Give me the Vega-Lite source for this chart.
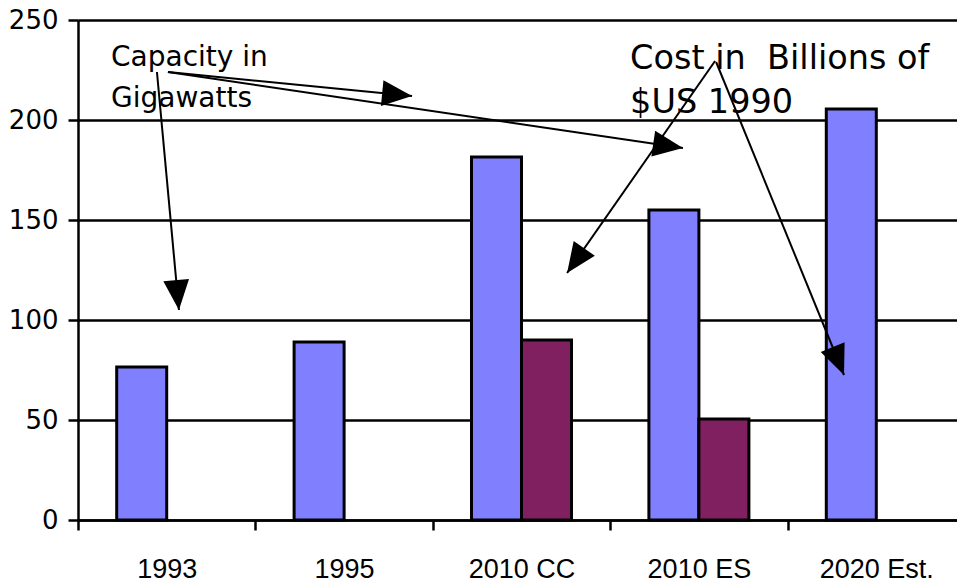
{
  "$schema": "https://vega.github.io/schema/vega-lite/v6.json",
  "width": 879,
  "height": 500,
  "autosize": {"type": "none"},
  "padding": {"left": 78, "top": 20, "right": 0, "bottom": 64},
  "background": "white",
  "config": {"view": {"stroke": null}},
  "datasets": {
    "bars": [
      {"category": "1993", "series": "Capacity", "value": 76.5},
      {"category": "1995", "series": "Capacity", "value": 89},
      {"category": "2010 CC", "series": "Capacity", "value": 181.5},
      {"category": "2010 CC", "series": "Cost", "value": 90},
      {"category": "2010 ES", "series": "Capacity", "value": 155},
      {"category": "2010 ES", "series": "Cost", "value": 50.5},
      {"category": "2020 Est.", "series": "Capacity", "value": 205.5}
    ],
    "arrows": [
      {"x": 0.445, "y": 224, "x2": 0.569, "y2": 105},
      {"x": 0.507, "y": 224, "x2": 1.883, "y2": 212},
      {"x": 0.507, "y": 224, "x2": 3.41, "y2": 186},
      {"x": 3.591, "y": 229.5, "x2": 2.757, "y2": 123.5},
      {"x": 3.597, "y": 229, "x2": 4.318, "y2": 72.5}
    ],
    "capText": [
      {"x": 0.186, "y": 227, "label": "Capacity in"},
      {"x": 0.186, "y": 206.5, "label": "Gigawatts"}
    ],
    "costText": [
      {"x": 3.112, "y": 225.5, "label": "Cost in \u00a0Billions of"},
      {"x": 3.112, "y": 203.5, "label": "$US 1990"}
    ]
  },
  "layer": [
    {
      "data": {"name": "bars"},
      "mark": {"type": "bar", "stroke": "black", "strokeWidth": 3},
      "encoding": {
        "x": {
          "field": "category", "type": "nominal", "sort": null,
          "scale": {"domain": ["1993", "1995", "2010 CC", "2010 ES", "2020 Est."], "range": [0, 887], "paddingInner": 0, "paddingOuter": 0},
          "axis": {"title": null, "labelAngle": 0, "tickBand": "extent", "ticks": true, "tickSize": 10, "tickColor": "black", "tickWidth": 2.5, "domainColor": "black", "domainWidth": 2.5, "labelFont": "Liberation Sans", "labelFontSize": 27, "labelColor": "black", "labelPadding": 47, "labelBaseline": "alphabetic", "grid": false}
        },
        "xOffset": {"field": "series", "type": "nominal", "scale": {"domain": ["Capacity", "Cost"], "paddingInner": 0, "paddingOuter": 0.774}},
        "y": {
          "field": "value", "type": "quantitative",
          "scale": {"domain": [0, 250], "nice": false},
          "axis": {"title": null, "values": [0, 50, 100, 150, 200, 250], "grid": true, "gridColor": "black", "gridWidth": 2.5, "gridOpacity": 1, "domainColor": "black", "domainWidth": 2.5, "tickColor": "black", "tickWidth": 2.5, "tickSize": 10, "labelFont": "DejaVu Sans", "labelFontSize": 26, "labelColor": "black", "labelPadding": 10}
        },
        "color": {"field": "series", "type": "nominal", "scale": {"domain": ["Capacity", "Cost"], "range": ["#8080FF", "#802060"]}, "legend": null}
      }
    },
    {
      "layer": [
        {
          "data": {"name": "capText"},
          "mark": {"type": "text", "align": "left", "baseline": "alphabetic", "font": "DejaVu Sans", "fontSize": 28, "color": "black"},
          "encoding": {
            "x": {"field": "x", "type": "quantitative", "scale": {"domain": [0, 5], "range": [0, 887]}, "axis": null},
            "y": {"field": "y", "type": "quantitative", "axis": null},
            "text": {"field": "label"}
          }
        },
        {
          "data": {"name": "costText"},
          "mark": {"type": "text", "align": "left", "baseline": "alphabetic", "font": "DejaVu Sans", "fontSize": 33.5, "color": "black"},
          "encoding": {
            "x": {"field": "x", "type": "quantitative", "scale": {"domain": [0, 5], "range": [0, 887]}, "axis": null},
            "y": {"field": "y", "type": "quantitative", "axis": null},
            "text": {"field": "label"}
          }
        },
        {
          "data": {"name": "arrows"},
          "mark": {"type": "rule", "color": "black", "strokeWidth": 2},
          "encoding": {
            "x": {"field": "x", "type": "quantitative", "scale": {"domain": [0, 5], "range": [0, 887]}, "axis": null},
            "y": {"field": "y", "type": "quantitative", "axis": null},
            "x2": {"field": "x2"},
            "y2": {"field": "y2"}
          }
        },
        {
          "data": {"name": "arrows"},
          "transform": [{"calculate": "atan2(-(datum.y2 - datum.y) * 2, (datum.x2 - datum.x) * 177.4) * 180 / PI", "as": "ang"}],
          "mark": {"type": "point", "shape": "M0,0L-1,-0.43L-1,0.43Z", "filled": true, "color": "black", "opacity": 1, "size": 3600, "strokeWidth": 0},
          "encoding": {
            "x": {"field": "x2", "type": "quantitative", "scale": {"domain": [0, 5], "range": [0, 887]}, "axis": null},
            "y": {"field": "y2", "type": "quantitative", "axis": null},
            "angle": {"field": "ang", "type": "quantitative", "scale": null}
          }
        }
      ],
      "resolve": {"axis": {"y": "independent"}}
    }
  ],
  "resolve": {"scale": {"x": "independent"}, "axis": {"y": "independent"}}
}
